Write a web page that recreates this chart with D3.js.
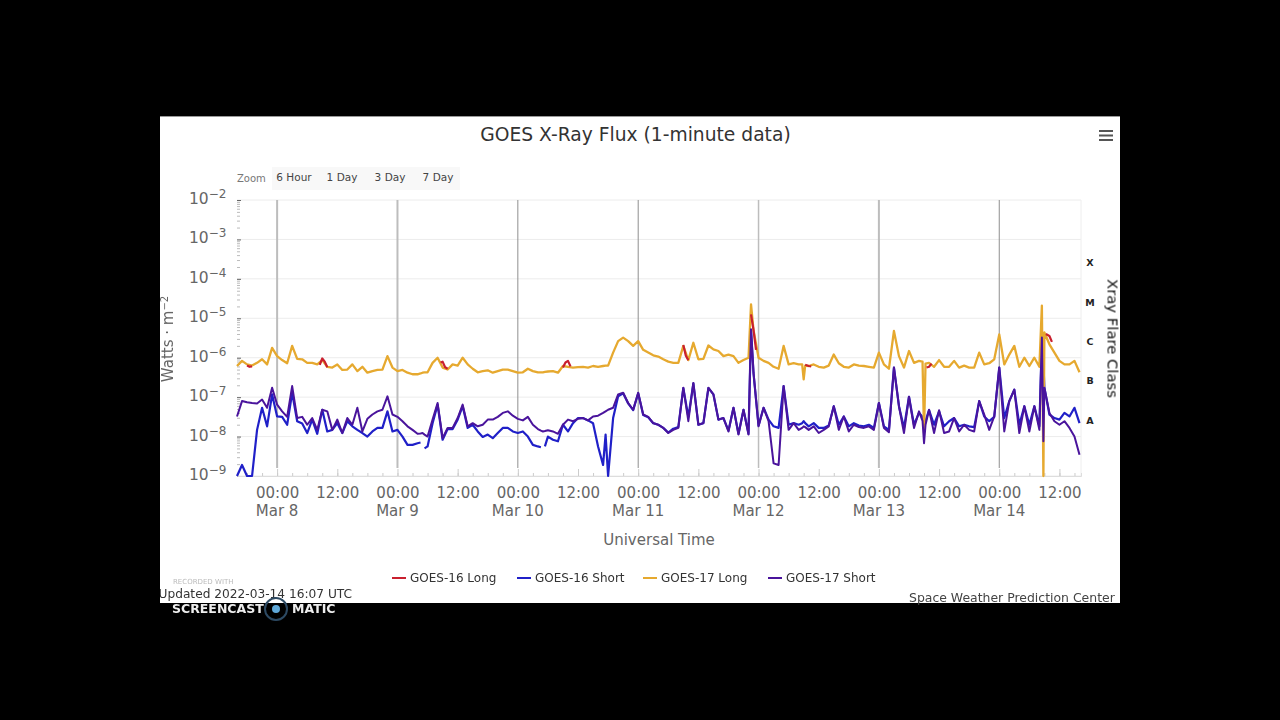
<!DOCTYPE html>
<html>
<head>
<meta charset="utf-8">
<script src="https://cdn.jsdelivr.net/npm/d3@7"></script>
<style>
html, body { margin: 0; background: #000; }
svg { display: block; filter: blur(0.35px); }
text { font-family: "DejaVu Sans", sans-serif; }
</style>
</head>
<body>
<svg width="1280" height="720"></svg>
<script>
// hours after Mar 8 00:00 UTC, one sample per hour plus a few extra around gaps and sharp spikes
var extraHours = [28.6,29.4,52.6,53.4,65.5,94.5,104.7,105.3,128.7,129.3,152.5,152.8];
var hours = d3.range(-8, 161).concat(extraHours).sort(d3.ascending);

// all values are log10(W/m2)
var goes17Long = [
  -6.21,-6.08,-6.17,-6.20,-6.13,-6.04,-6.17,-5.75,
  -5.96,-6.06,-6.14,-5.70,-6.03,-6.04,-6.13,-6.13,-6.17,-6.06,-6.23,-6.25,
  -6.17,-6.31,-6.30,-6.17,-6.34,-6.23,-6.38,-6.34,-6.31,-6.30,-5.96,-6.25,
  -6.34,-6.31,-6.38,-6.42,-6.42,-6.40,-6.38,-6.37,-6.37,-6.13,-6.00,-6.25,-6.30,-6.17,
  -6.20,-6.00,-6.17,-6.28,-6.37,-6.34,-6.32,-6.38,-6.34,-6.30,-6.30,-6.34,
  -6.38,-6.37,-6.28,-6.34,-6.37,-6.37,-6.37,-6.36,-6.35,-6.34,-6.38,-6.21,-6.23,-6.25,
  -6.24,-6.23,-6.25,-6.21,-6.23,-6.21,-6.20,-6.20,-5.87,-5.58,-5.49,-5.58,-5.70,
  -5.58,-5.80,-5.87,-5.94,-5.97,-6.04,-6.10,-6.13,-6.13,-5.70,-6.06,-5.62,
  -6.04,-6.03,-5.69,-5.79,-5.83,-5.96,-5.92,-5.96,-6.13,-6.06,-6.00,-4.65,
  -5.30,-6.00,-6.08,-6.13,-6.23,-6.28,-5.70,-6.17,-6.14,-6.17,-6.17,-6.55,-6.20,-6.21,
  -6.17,-6.23,-6.25,-6.20,-5.92,-6.14,-6.23,-6.25,-6.17,-6.20,-6.21,-6.23,
  -6.25,-5.87,-6.17,-6.28,-5.32,-5.96,-6.25,-5.83,-6.13,-6.08,-6.10,-7.91,-6.15,-6.13,
  -6.23,-6.06,-6.23,-6.23,-6.08,-6.25,-6.20,-6.25,-6.25,-5.87,-6.17,-6.14,
  -6.04,-5.41,-6.17,-5.92,-5.70,-6.23,-6.00,-6.21,-6.00,-6.23,-4.68,-9.00,
  -5.36,-5.66,-5.87,-6.08,-6.17,-6.17,-6.08,-6.37
];
var goes17Short = [
  -7.49,-7.10,-7.13,-7.15,-7.16,-7.06,-7.27,-6.76,
  -7.19,-7.36,-7.50,-6.72,-7.53,-7.50,-7.70,-7.53,-7.83,-7.32,-7.36,-7.83,
  -7.57,-7.91,-7.53,-7.70,-7.27,-7.87,-7.55,-7.44,-7.36,-7.32,-6.98,-7.44,
  -7.50,-7.61,-7.74,-7.83,-7.93,-7.92,-7.91,-7.95,-8.00,-7.57,-7.15,-8.04,-7.78,-7.78,
  -7.53,-7.19,-7.74,-7.66,-7.74,-7.70,-7.57,-7.57,-7.50,-7.40,-7.36,-7.47,
  -7.55,-7.59,-7.50,-7.70,-7.81,-7.85,-7.87,-7.86,-7.84,-7.87,-7.93,-7.70,-7.57,-7.61,
  -7.55,-7.53,-7.59,-7.49,-7.47,-7.40,-7.36,-7.32,-7.27,-6.93,-6.89,-7.15,-7.32,
  -6.89,-7.44,-7.50,-7.66,-7.70,-7.78,-7.91,-7.83,-7.78,-6.76,-7.61,-6.64,
  -7.70,-7.66,-6.76,-6.93,-7.57,-7.53,-7.87,-7.27,-7.95,-7.32,-7.95,-5.28,
  -6.38,-7.74,-7.27,-7.61,-8.68,-8.72,-6.72,-7.83,-7.66,-7.83,-7.78,-7.74,-7.76,-7.83,
  -7.74,-7.91,-7.83,-7.74,-7.23,-7.83,-7.49,-7.87,-7.70,-7.76,-7.78,-7.74,
  -7.83,-7.15,-7.78,-7.89,-6.25,-7.23,-7.91,-6.99,-7.78,-7.36,-7.60,-8.17,-7.70,-7.32,
  -7.91,-7.33,-7.91,-7.87,-7.53,-7.87,-7.70,-7.83,-7.87,-7.10,-7.44,-7.83,
  -7.49,-6.25,-7.87,-7.10,-6.81,-7.91,-7.23,-7.87,-7.23,-7.83,-5.49,-8.12,
  -6.76,-7.40,-7.61,-7.70,-7.61,-7.78,-8.00,-8.46
];
var goes16Short = [
  -9.00,-8.72,-9.00,-9.00,-7.83,-7.27,-7.74,-6.93,
  -7.49,-7.50,-7.70,-6.89,-7.61,-7.67,-7.91,-7.57,-7.93,-7.32,-7.87,-7.83,
  -7.66,-7.91,-7.61,-7.74,-7.83,-7.91,-8.00,-7.87,-7.78,-7.78,-7.36,-7.87,
  -7.83,-8.00,-8.21,-8.21,-8.17,-8.15,null,-8.30,-8.25,-7.66,-7.19,-8.08,-7.81,-7.81,
  -7.57,-7.23,-7.78,-7.70,-7.87,-8.01,-7.95,-8.04,-7.91,-7.78,-7.78,-7.87,
  -7.91,-7.87,-8.00,-8.21,-8.25,-8.27,null,-8.25,-8.00,-8.08,-8.12,-7.70,-7.87,-7.66,
  -7.53,-7.53,-7.59,-7.66,-8.25,-8.72,-7.95,-9.00,-7.53,-6.98,-6.90,-7.16,-7.33,
  -6.90,-7.45,-7.51,-7.66,-7.70,-7.78,-7.90,-7.80,-7.76,-6.77,-7.50,-6.65,
  -7.70,-7.66,-6.77,-6.93,-7.57,-7.53,-7.85,-7.27,-7.93,-7.32,-7.93,-5.30,
  -6.40,-7.72,-7.27,-7.57,-7.74,-7.78,-6.72,-7.70,-7.66,-7.70,-7.66,-7.61,-7.66,-7.74,
  -7.66,-7.78,-7.78,-7.72,-7.23,-7.70,-7.49,-7.74,-7.66,-7.72,-7.74,-7.70,
  -7.78,-7.15,-7.74,-7.83,-6.25,-7.23,-7.78,-6.99,-7.70,-7.40,-7.50,-7.66,-7.60,-7.33,
  -7.70,-7.36,-7.74,-7.61,-7.53,-7.74,-7.70,-7.74,-7.76,-7.10,-7.49,-7.61,
  -7.50,-6.25,-7.53,-7.10,-6.81,-7.70,-7.23,-7.70,-7.23,-7.74,-5.53,-6.13,
  -6.76,-7.44,-7.53,-7.57,-7.40,-7.49,-7.27,-7.66
];
// GOES-16 Long sits under GOES-17 Long almost everywhere, only the pieces that show are listed
var goes16LongHours = [-6,-5.5,-5,null,8.5,9,9.5,10,null,32.6,33,33.5,34,null,57,57.5,58,58.5,null,81,81.5,82,null,94.5,95,95.5,null,105.3,106,106.5,null,129.5,130,130.5,null,153.3,154,154.5];
var goes16LongVals  = [-6.20,-6.23,-6.22,null,-6.18,-6.02,-6.10,-6.24,null,-6.12,-6.10,-6.24,-6.28,null,-6.25,-6.12,-6.08,-6.22,null,-5.68,-5.95,-6.06,null,-4.90,-5.30,-5.80,null,-6.18,-6.21,-6.22,null,-6.25,-6.23,-6.15,null,-5.40,-5.45,-5.60];

var yExponents = [-2,-3,-4,-5,-6,-7,-8,-9];
var flareClasses = ["X","M","C","B","A"];
var flareClassExp = [-3.5,-4.5,-5.5,-6.5,-7.5];
var zoomLabels = ["6 Hour","1 Day","3 Day","7 Day"];
var legendNames = ["GOES-16 Long","GOES-16 Short","GOES-17 Long","GOES-17 Short"];
var colors = ["#c9202f","#2020c8","#e6a92f","#4a149c"];

var svg = d3.select("svg");

function toDate(h) { return new Date(Date.UTC(2022, 2, 8) + h * 3600e3); }

var x = d3.scaleUtc().domain([toDate(-8), toDate(160.3)]).range([237, 1081]);
var y = d3.scaleLog().domain([1e-9, 1e-2]).range([476, 200]);

// page panel
svg.append("rect").attr("x", 160).attr("y", 116).attr("width", 960).attr("height", 487).attr("fill", "#fff");
svg.append("rect").attr("x", 160).attr("y", 116).attr("width", 960).attr("height", 1).attr("fill", "#999");

svg.append("text").attr("x", 635.5).attr("y", 140.5).attr("text-anchor", "middle")
  .attr("font-size", 18.7).attr("fill", "#333").text("GOES X-Ray Flux (1-minute data)");

// menu icon
[131, 135.5, 140].forEach(function(d) {
  svg.append("rect").attr("x", 1099).attr("y", d - 1).attr("width", 14).attr("height", 2).attr("fill", "#555");
});

// zoom buttons
svg.append("text").attr("x", 237).attr("y", 182).attr("font-size", 10).attr("fill", "#777").text("Zoom");
svg.append("rect").attr("x", 272).attr("y", 167).attr("width", 188).attr("height", 23).attr("fill", "#f8f8f8");
svg.selectAll(".zoomBtn").data(zoomLabels).enter().append("text")
  .attr("x", function(d, i) { return [294, 342, 390, 438][i]; })
  .attr("y", 181).attr("text-anchor", "middle").attr("font-size", 10.5).attr("fill", "#444")
  .text(function(d) { return d; });

// horizontal grid
svg.append("g").selectAll("line").data(yExponents).enter().append("line")
  .attr("x1", 237).attr("x2", 1081)
  .attr("y1", function(d) { return y(Math.pow(10, d)); })
  .attr("y2", function(d) { return y(Math.pow(10, d)); })
  .attr("stroke", "#ececec");
svg.append("line").attr("x1", 1081).attr("x2", 1081).attr("y1", 200).attr("y2", 476).attr("stroke", "#eee");

// day lines
var dayLineWidth = [2, 2, 1, 1, 1.5, 2, 1];
svg.append("g").selectAll("line").data(d3.range(0, 7)).enter().append("line")
  .attr("x1", function(d) { return x(toDate(d * 24)); })
  .attr("x2", function(d) { return x(toDate(d * 24)); })
  .attr("y1", 200).attr("y2", 468)
  .attr("stroke", function(d, i) { return dayLineWidth[i] > 1 ? "#bdbdbd" : "#8f8f8f"; })
  .attr("stroke-width", function(d, i) { return dayLineWidth[i]; });

// left axis, minor log ticks and labels
var minorTicks = [];
d3.range(-9, -2).forEach(function(e) {
  d3.range(2, 10).forEach(function(m) { minorTicks.push(m * Math.pow(10, e)); });
});
var yMinor = d3.axisRight(y).tickValues(minorTicks).tickSize(3).tickFormat("");
var gMinor = svg.append("g").attr("transform", "translate(237,0)").call(yMinor);
gMinor.select(".domain").remove();
gMinor.selectAll("line").attr("stroke", "#bbb");

var yMajor = d3.axisRight(y).tickValues(yExponents.map(function(e) { return Math.pow(10, e); })).tickSize(4).tickFormat("");
var gMajor = svg.append("g").attr("transform", "translate(237,0)").call(yMajor);
gMajor.select(".domain").remove();
gMajor.selectAll("line").attr("stroke", "#666");

var yLabel = svg.append("g").selectAll("text").data(yExponents).enter().append("text")
  .attr("x", 189).attr("y", function(d) { return y(Math.pow(10, d)) + 4; })
  .attr("font-size", 15.5).attr("fill", "#666");
yLabel.append("tspan").text("10");
yLabel.append("tspan").attr("dy", -6).attr("font-size", 12).text(function(d) { return "\u2212" + Math.abs(d); });

var yTitle = svg.append("text").attr("transform", "translate(173,339) rotate(-90)")
  .attr("text-anchor", "middle").attr("font-size", 15).attr("fill", "#666");
yTitle.append("tspan").text("Watts \u00b7 m");
yTitle.append("tspan").attr("dy", -5).attr("font-size", 10).text("\u22122");

// bottom axis
var xMinorAxis = d3.axisBottom(x).ticks(d3.utcHour.every(3)).tickSize(-3).tickFormat("");
var gx = svg.append("g").attr("transform", "translate(0,476)").call(xMinorAxis);
gx.select(".domain").attr("stroke", "#ddd");
gx.selectAll("line").attr("stroke", "#ccc");

var xAxis = d3.axisBottom(x).ticks(d3.utcHour.every(12)).tickSize(-7).tickPadding(14)
  .tickFormat(d3.utcFormat("%H:%M"));
var gxMajor = svg.append("g").attr("transform", "translate(0,476)").call(xAxis);
gxMajor.select(".domain").remove();
gxMajor.selectAll("line").attr("stroke", "#ccc");
gxMajor.selectAll("text").attr("font-size", 15).attr("fill", "#666")
  .attr("font-family", "DejaVu Sans").attr("y", 22).attr("dy", 0);

svg.append("g").selectAll("text").data(d3.range(0, 7)).enter().append("text")
  .attr("x", function(d) { return x(toDate(d * 24)); })
  .attr("y", 516).attr("text-anchor", "middle").attr("font-size", 15).attr("fill", "#666")
  .text(function(d) { return d3.utcFormat("%b %-d")(toDate(d * 24)); });

svg.append("text").attr("x", 659).attr("y", 545).attr("text-anchor", "middle")
  .attr("font-size", 15).attr("fill", "#666").text("Universal Time");

// flare class labels
svg.append("g").selectAll("text").data(flareClasses).enter().append("text")
  .attr("x", 1090).attr("y", function(d, i) { return y(Math.pow(10, flareClassExp[i])) + 7; })
  .attr("text-anchor", "middle").attr("font-size", 9.5).attr("font-weight", "bold").attr("fill", "#222")
  .text(function(d) { return d; });
svg.append("text").attr("transform", "translate(1107.5,338.5) rotate(90)")
  .attr("text-anchor", "middle").attr("font-size", 14.8).attr("fill", "#111").text("Xray Flare Class");

// series
var line = d3.line()
  .defined(function(d) { return d[1] !== null && d[0] !== null; })
  .x(function(d) { return x(toDate(d[0])); })
  .y(function(d) { return y(Math.pow(10, d[1])); });

function drawSeries(times, vals, color, width) {
  svg.append("path").datum(d3.zip(times, vals))
    .attr("d", line).attr("fill", "none").attr("stroke", color)
    .attr("stroke-width", width).attr("stroke-linejoin", "round");
}
drawSeries(hours, goes16Short, colors[1], 2.2);
drawSeries(hours, goes17Long, colors[2], 2.3);
drawSeries(goes16LongHours, goes16LongVals, colors[0], 2.2);
drawSeries(hours, goes17Short, colors[3], 2);

// legend
var legendLine = [392, 517, 643, 768];
var legend = svg.append("g").selectAll("g").data(legendNames).enter().append("g");
legend.append("line")
  .attr("x1", function(d, i) { return legendLine[i]; })
  .attr("x2", function(d, i) { return legendLine[i] + 14; })
  .attr("y1", 578).attr("y2", 578).attr("stroke-width", 2)
  .attr("stroke", function(d, i) { return colors[i]; });
legend.append("text")
  .attr("x", function(d, i) { return legendLine[i] + 18; })
  .attr("y", 582).attr("font-size", 12).attr("fill", "#333")
  .text(function(d) { return d; });

// footer, credits and the recorder watermark
svg.append("text").attr("x", 909).attr("y", 602).attr("font-size", 12.45).attr("fill", "#444")
  .text("Space Weather Prediction Center");
svg.append("clipPath").attr("id", "panelClip").append("rect")
  .attr("x", 160).attr("y", 116).attr("width", 960).attr("height", 487);
svg.append("text").attr("x", 173).attr("y", 584).attr("font-size", 7).attr("fill", "#bbb").text("RECORDED WITH");
svg.append("text").attr("x", 158.5).attr("y", 598).attr("font-size", 12.2).attr("fill", "#333")
  .attr("clip-path", "url(#panelClip)").text("Updated 2022-03-14 16:07 UTC");

svg.append("circle").attr("cx", 276).attr("cy", 609).attr("r", 11)
  .attr("fill", "none").attr("stroke", "#2d4a63").attr("stroke-width", 2);
svg.append("circle").attr("cx", 276).attr("cy", 609).attr("r", 4).attr("fill", "#5fa8d8");
svg.append("text").attr("x", 172).attr("y", 613).attr("font-size", 12.5).attr("font-weight", "bold")
  .attr("fill", "#eee").text("SCREENCAST");
svg.append("text").attr("x", 292).attr("y", 613).attr("font-size", 12.5).attr("font-weight", "bold")
  .attr("fill", "#eee").text("MATIC");
</script>
</body>
</html>
